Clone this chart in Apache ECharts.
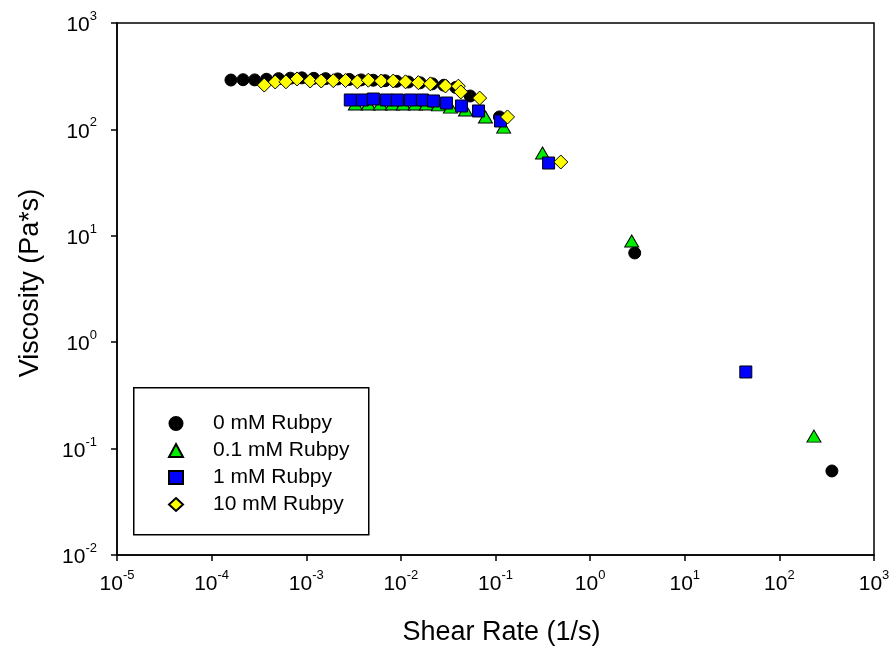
<!DOCTYPE html>
<html>
<head>
<meta charset="utf-8">
<script src="https://cdn.jsdelivr.net/npm/echarts@6/dist/echarts.min.js"></script>
<style>
  html, body { margin: 0; padding: 0; background: #fff; }
  #chart { width: 894px; height: 652px; }
</style>
</head>
<body>
<div id="chart"></div>
<script>
// Viscosity vs shear rate for four Rubpy concentrations, [shear rate (1/s), viscosity (Pa*s)]
const seriesNames = ['0 mM Rubpy', '0.1 mM Rubpy', '1 mM Rubpy', '10 mM Rubpy'];

const rubpy0 = [
  [1.6e-4, 291], [2.15e-4, 293], [2.85e-4, 292], [3.8e-4, 296], [5.1e-4, 300],
  [6.8e-4, 303], [9.0e-4, 305], [1.2e-3, 302], [1.6e-3, 300], [2.15e-3, 298],
  [2.85e-3, 295], [3.8e-3, 292], [5.1e-3, 290], [6.8e-3, 287], [9.0e-3, 283],
  [1.2e-2, 279], [1.6e-2, 274], [2.15e-2, 268], [2.85e-2, 260], [3.8e-2, 248],
  [5.4e-2, 206], [0.11, 131], [2.96, 6.9], [359, 0.0616]
];

const rubpy01 = [
  [3.3e-3, 173], [4.53e-3, 173], [6.07e-3, 173], [8.13e-3, 173], [1.06e-2, 173],
  [1.42e-2, 173], [1.86e-2, 173], [2.49e-2, 170], [3.34e-2, 162], [4.82e-2, 152],
  [7.83e-2, 131], [0.122, 105], [0.314, 60], [2.75, 8.93], [232, 0.131]
];

const rubpy1 = [
  [2.92e-3, 189], [3.92e-3, 189], [5.12e-3, 193], [7.03e-3, 189], [9.19e-3, 189],
  [1.26e-2, 189], [1.69e-2, 189], [2.21e-2, 185], [3.03e-2, 177], [4.37e-2, 166],
  [6.61e-2, 149], [0.113, 120], [0.364, 48.3], [44.2, 0.525]
];

const rubpy10 = [
  [3.6e-4, 261], [4.7e-4, 279], [6.1e-4, 280], [8.0e-4, 298], [1.1e-3, 285],
  [1.44e-3, 285], [1.93e-3, 287], [2.6e-3, 288], [3.47e-3, 280], [4.53e-3, 290],
  [6.2e-3, 285], [8.3e-3, 285], [1.12e-2, 280], [1.53e-2, 275], [2.05e-2, 268],
  [2.96e-2, 256], [4.05e-2, 255], [4.3e-2, 225], [6.8e-2, 197], [0.134, 131],
  [0.49, 49.4]
];

const FONT = '"Liberation Sans", Arial, sans-serif';

// Power-of-ten tick labels: "10" with a raised exponent
function powLabel(v) {
  const e = Math.round(Math.log10(v));
  return '{b|10}{s|' + e + '}';
}
const powRich = {
  b: { fontSize: 21, fontFamily: FONT, color: '#000', lineHeight: 26, verticalAlign: 'bottom' },
  s: { fontSize: 13, fontFamily: FONT, color: '#000', lineHeight: 26, verticalAlign: 'top', padding: [0, 0, 9, 0] }
};

const axisCommon = {
  type: 'log',
  logBase: 10,
  interval: 1,
  axisLine: { show: true, lineStyle: { color: '#000', width: 1.5 } },
  axisTick: { show: true, inside: false, length: 6, lineStyle: { color: '#000', width: 1.5 } },
  minorTick: { show: false },
  splitLine: { show: false },
  nameLocation: 'middle'
};

const chart = echarts.init(document.getElementById('chart'), null, { renderer: 'canvas' });

chart.setOption({
  animation: false,
  backgroundColor: '#fff',
  grid: {
    left: 117, right: 20, top: 23, bottom: 97,
    show: true, borderColor: '#000', borderWidth: 1.5, backgroundColor: 'transparent'
  },
  xAxis: Object.assign({}, axisCommon, {
    min: 1e-5, max: 1e3,
    name: 'Shear Rate (1/s)',
    nameGap: 64,
    nameTextStyle: { fontSize: 27, fontFamily: FONT, color: '#000', padding: [0, 0, 0, 12] },
    axisLabel: { formatter: powLabel, rich: powRich, margin: 14 }
  }),
  yAxis: Object.assign({}, axisCommon, {
    min: 1e-2, max: 1e3,
    name: 'Viscosity (Pa*s)',
    nameGap: 73,
    nameTextStyle: { fontSize: 27, fontFamily: FONT, color: '#000', padding: [0, 0, 0, 12] },
    axisLabel: { formatter: powLabel, rich: powRich, margin: 20 }
  }),
  legend: {
    orient: 'vertical',
    left: 163,
    top: 408,
    itemWidth: 14,
    itemHeight: 13,
    itemGap: 6,
    textStyle: { fontSize: 21, lineHeight: 21, fontFamily: FONT, color: '#000', padding: [0, 0, 0, 25] },
    data: seriesNames
  },
  graphic: [{
    type: 'rect',
    left: 133, top: 387,
    shape: { width: 235, height: 147 },
    style: { fill: 'transparent', stroke: '#000', lineWidth: 1.5 },
    z: 0
  }],
  series: [
    {
      name: seriesNames[0], type: 'scatter', data: rubpy0,
      symbol: 'circle', symbolSize: 12,
      itemStyle: { color: '#000', borderColor: '#000', borderWidth: 1, opacity: 1 },
      z: 2
    },
    {
      name: seriesNames[1], type: 'scatter', data: rubpy01,
      symbol: 'triangle', symbolSize: [14, 12],
      itemStyle: { color: '#00ee00', borderColor: '#000', borderWidth: 1, opacity: 1 },
      z: 3
    },
    {
      name: seriesNames[2], type: 'scatter', data: rubpy1,
      symbol: 'rect', symbolSize: 12,
      itemStyle: { color: '#0000ff', borderColor: '#000', borderWidth: 1, opacity: 1 },
      z: 4
    },
    {
      name: seriesNames[3], type: 'scatter', data: rubpy10,
      symbol: 'diamond', symbolSize: 14,
      itemStyle: { color: '#ffff00', borderColor: '#000', borderWidth: 1, opacity: 1 },
      z: 5
    }
  ]
});
</script>
</body>
</html>
